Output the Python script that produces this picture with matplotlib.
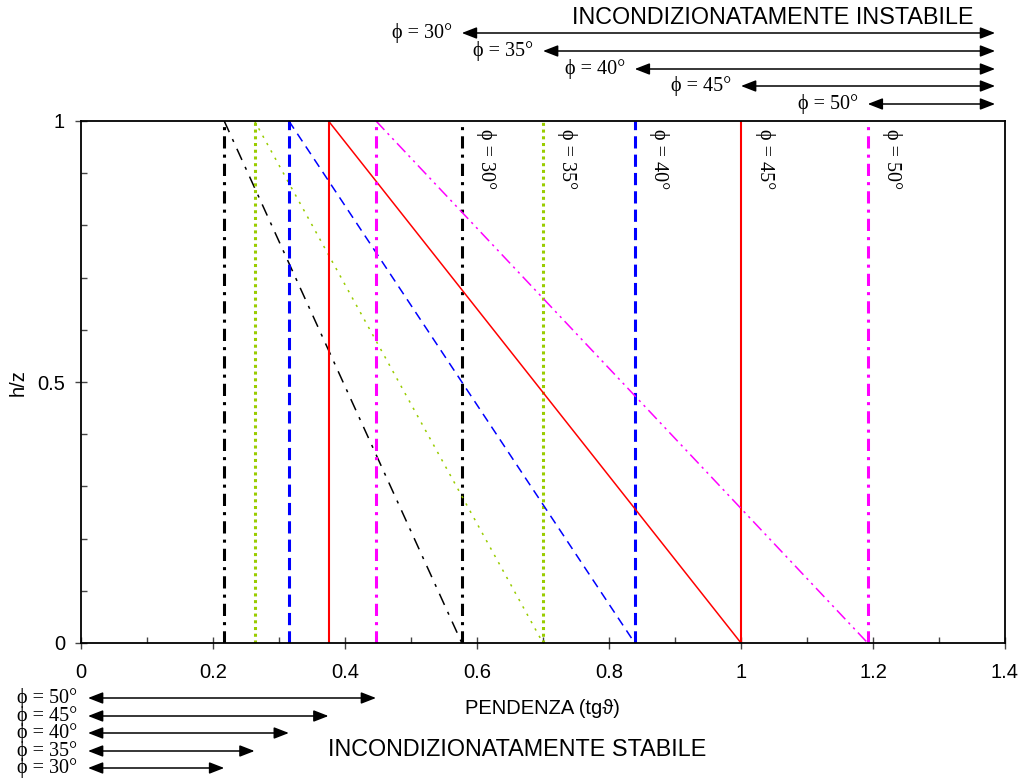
import matplotlib
matplotlib.use("Agg")
import matplotlib.pyplot as plt
from matplotlib.ticker import MultipleLocator

# angles of internal friction
phi = [30, 35, 40, 45, 50]
# slope limits (tg theta): unconditionally stable / unstable
tg_stable = [0.217, 0.263, 0.315, 0.375, 0.447]
tg_unstable = [0.577, 0.700, 0.839, 1.000, 1.192]
hz = [1.0, 0.0]

xticks = [0, 0.2, 0.4, 0.6, 0.8, 1.0, 1.2, 1.4]
xticklabels = ["0", "0.2", "0.4", "0.6", "0.8", "1", "1.2", "1.4"]
yticks = [0, 0.5, 1]
yticklabels = ["0", "0.5", "1"]

colors = ["black", "#99CC00", "#0000FF", "#FF0000", "#FF00FF"]
vstyles = [(0, (4, 2, 1, 2)), (0, (1, 1.2)), (0, (4, 2)), "-", (0, (4, 2, 1, 2))]
dstyles = [(0, (8, 5, 2, 5)), (0, (1.5, 4)), (0, (6, 4)), "-", (0, (8, 3, 1.5, 3, 1.5, 3))]
vwidths = [2.2, 2.2, 2.2, 1.5, 2.2]

# arrow rows (figure pixels from top)
top_rows = [33, 51, 69, 86, 104]
bot_rows = [768, 751, 733, 716, 698]

W, H = 1023, 780
fig = plt.figure(figsize=(W / 100, H / 100), dpi=100)
ax = fig.add_axes([81 / W, 1 - 643 / H, (1005 - 81) / W, (643 - 121) / H])

serif = "Liberation Serif"
sans = "Liberation Sans"

for i in range(len(phi)):
    ax.plot([tg_stable[i], tg_stable[i]], [0, 1], color=colors[i],
            linestyle=vstyles[i], lw=vwidths[i])
    ax.plot([tg_unstable[i], tg_unstable[i]], [0, 1], color=colors[i],
            linestyle=vstyles[i], lw=vwidths[i])
    ax.plot([tg_stable[i], tg_unstable[i]], hz, color=colors[i],
            linestyle=dstyles[i], lw=1.1)
    ax.text(tg_unstable[i] + 0.021, 0.985, "ϕ = %d°" % phi[i], rotation=-90,
            ha="left", va="top", family=serif, fontsize=14.5)

ax.set_xlim(0, 1.4)
ax.set_ylim(0, 1)
ax.set_xticks(xticks)
ax.set_xticklabels(xticklabels)
ax.set_yticks(yticks)
ax.set_yticklabels(yticklabels)
ax.xaxis.set_minor_locator(MultipleLocator(0.1))
ax.yaxis.set_minor_locator(MultipleLocator(0.1))
ax.tick_params(which="major", direction="inout", length=9, width=1, labelsize=14.5, color="#444444")
ax.tick_params(which="minor", direction="in", length=4.5, width=1, color="#444444")
ax.tick_params(axis="x", which="major", pad=10)
ax.tick_params(axis="y", which="major", pad=7)
for lab in ax.get_xticklabels() + ax.get_yticklabels():
    lab.set_family(sans)
for s in ax.spines.values():
    s.set_linewidth(1.3)

arrow = dict(arrowstyle="<|-|>,head_length=0.9,head_width=0.35", color="black",
             lw=1.1, shrinkA=0, shrinkB=0, mutation_scale=10)

for i in range(len(phi)):
    yf = 1 - top_rows[i] / H
    ax.annotate("", xy=(tg_unstable[i], yf), xytext=(1.385, yf),
                xycoords=("data", "figure fraction"), textcoords=("data", "figure fraction"),
                arrowprops=arrow, annotation_clip=False)
    ax.annotate("ϕ = %d°" % phi[i], xy=(tg_unstable[i], yf), xycoords=("data", "figure fraction"),
                xytext=(-7, 0), textcoords="offset points", ha="right", va="center",
                family=serif, fontsize=14.5, annotation_clip=False)

    yb = 1 - bot_rows[i] / H
    ax.annotate("", xy=(0.0106, yb), xytext=(tg_stable[i], yb),
                xycoords=("data", "figure fraction"), textcoords=("data", "figure fraction"),
                arrowprops=arrow, annotation_clip=False)
    fig.text(17 / W, yb, "ϕ = %d°" % phi[i], ha="left", va="center",
             family=serif, fontsize=14.5)

fig.text(773 / W, 1 - 18 / H, "INCONDIZIONATAMENTE INSTABILE", ha="center", va="center",
         family=sans, fontsize=16.8)
fig.text(517 / W, 1 - 750 / H, "INCONDIZIONATAMENTE STABILE", ha="center", va="center",
         family=sans, fontsize=16.8)
fig.text(542 / W, 1 - 709 / H, "PENDENZA (tgϑ)", ha="center", va="center",
         family=[sans, serif], fontsize=14.5)
fig.text(18 / W, 1 - 383 / H, "h/z", ha="center", va="center", rotation=90,
         family=sans, fontsize=14.5)

fig.savefig("out.png", dpi=100)
